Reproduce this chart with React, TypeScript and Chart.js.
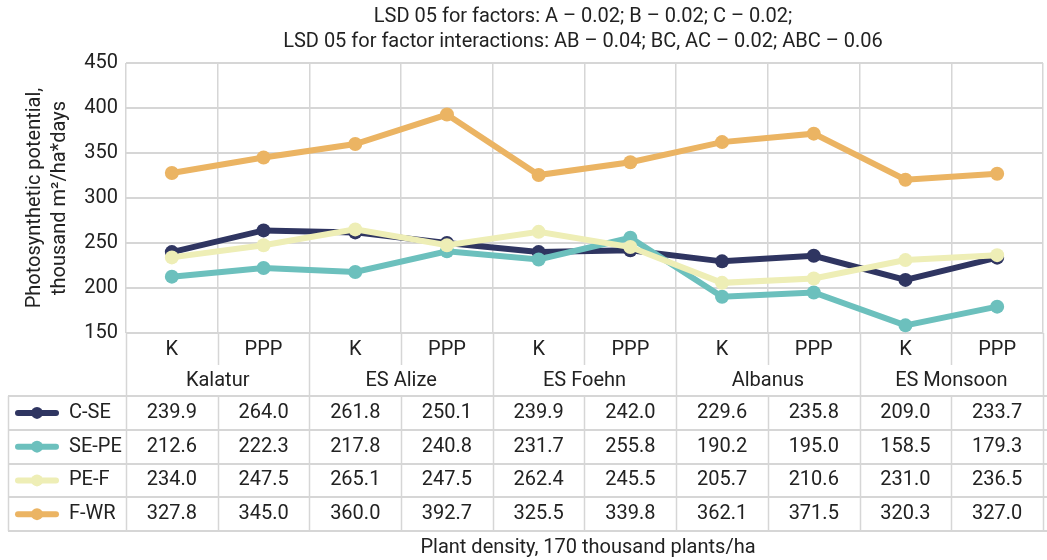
import React, { useEffect, useRef } from "react";
import { Chart, registerables } from "chart.js";
Chart.register(...registerables);

const varieties = ["Kalatur", "ES Alize", "ES Foehn", "Albanus", "ES Monsoon"];
const treatments = ["K", "PPP"];
const categories = varieties.flatMap((v) => treatments.map((t) => t));
const seriesNames = ["C-SE", "SE-PE", "PE-F", "F-WR"];
const cSE = [239.9, 264.0, 261.8, 250.1, 239.9, 242.0, 229.6, 235.8, 209.0, 233.7];
const sePE = [212.6, 222.3, 217.8, 240.8, 231.7, 255.8, 190.2, 195.0, 158.5, 179.3];
const peF = [234.0, 247.5, 265.1, 247.5, 262.4, 245.5, 205.7, 210.6, 231.0, 236.5];
const fWR = [327.8, 345.0, 360.0, 392.7, 325.5, 339.8, 362.1, 371.5, 320.3, 327.0];
const seriesValues = [cSE, sePE, peF, fWR];
const seriesColors = ["#2f3561", "#6cc0bd", "#eeeeb6", "#ebb463"];
const titleLines = [
  "LSD 05 for factors: A – 0.02; B – 0.02; C – 0.02;",
  "LSD 05 for factor interactions: AB – 0.04; BC, AC – 0.02; ABC – 0.06",
];
const yTitleLines = ["Photosynthetic potential,", "thousand m²/ha*days"];
const xTitle = "Plant density, 170 thousand plants/ha";
const yMin = 150;
const yMax = 450;
const yStep = 50;

const FONT = "Roboto, 'Noto Sans', sans-serif";
const TEXT = "#222222";
const GRID = "rgb(214,214,214)";

const tablePlugin = {
  id: "tablePlugin",
  afterDraw(chart: any) {
    const ctx = chart.ctx;
    const xs = chart.scales.x;
    const area = chart.chartArea;
    const W = chart.width;
    const colW = xs.getPixelForValue(1) - xs.getPixelForValue(0);
    const left = area.left;
    const bottom = area.bottom;
    const row1B = 365;
    const row2B = 396;
    const rowH = (531 - row2B) / 4;
    const tblBottom = row2B + rowH * 4;
    const legendLeft = 8;

    ctx.save();
    ctx.strokeStyle = GRID;
    ctx.lineWidth = 1.5;
    for (let i = 0; i <= categories.length; i++) {
      const bx = Math.round(left + i * colW) + 0.5;
      ctx.beginPath();
      if (i % 2 === 0) {
        ctx.moveTo(bx, bottom);
        ctx.lineTo(bx, tblBottom);
      } else {
        ctx.moveTo(bx, bottom);
        ctx.lineTo(bx, row1B);
        ctx.moveTo(bx, row2B);
        ctx.lineTo(bx, tblBottom);
      }
      ctx.stroke();
    }
    ctx.beginPath();
    ctx.moveTo(legendLeft + 0.5, row2B);
    ctx.lineTo(legendLeft + 0.5, tblBottom);
    ctx.stroke();
    ctx.lineWidth = 2;
    for (let r = 0; r <= 4; r++) {
      const y = Math.round(row2B + r * rowH);
      ctx.beginPath();
      ctx.moveTo(legendLeft, y);
      ctx.lineTo(W, y);
      ctx.stroke();
    }

    ctx.fillStyle = TEXT;
    ctx.font = `20px ${FONT}`;
    ctx.textAlign = "center";
    ctx.textBaseline = "middle";
    categories.forEach((c, i) => {
      ctx.fillText(c, xs.getPixelForValue(i), (bottom + row1B) / 2 + 1);
    });
    varieties.forEach((v, g) => {
      const cx = left + (g * 2 + 1) * colW;
      ctx.fillText(v, cx, (row1B + row2B) / 2);
    });
    seriesValues.forEach((vals, r) => {
      const cy = row2B + r * rowH + rowH / 2;
      vals.forEach((v, i) => {
        ctx.fillStyle = TEXT;
        ctx.textAlign = "center";
        ctx.fillText(v.toFixed(1), xs.getPixelForValue(i), cy);
      });
      ctx.strokeStyle = seriesColors[r];
      ctx.lineWidth = 6;
      ctx.lineCap = "round";
      ctx.beginPath();
      ctx.moveTo(18, cy);
      ctx.lineTo(56, cy);
      ctx.stroke();
      ctx.fillStyle = seriesColors[r];
      ctx.beginPath();
      ctx.arc(37, cy, 6, 0, Math.PI * 2);
      ctx.fill();
      ctx.fillStyle = TEXT;
      ctx.textAlign = "left";
      ctx.fillText(seriesNames[r], 69, cy);
    });

    ctx.textAlign = "center";
    ctx.fillStyle = TEXT;
    ctx.font = `20px ${FONT}`;
    ctx.fillText(xTitle, 588, 548);

    ctx.fillText(titleLines[0], 583, 17);
    ctx.fillText(titleLines[1], 583, 42);

    ctx.save();
    ctx.translate(35, (area.top + area.bottom) / 2);
    ctx.rotate(-Math.PI / 2);
    ctx.fillText(yTitleLines[0], 0, 0);
    ctx.fillText(yTitleLines[1], 0, 25);
    ctx.restore();

    ctx.restore();
  },
};

export default function App() {
  const ref = useRef<HTMLCanvasElement | null>(null);
  useEffect(() => {
    if (!ref.current) return;
    const chart = new Chart(ref.current, {
      type: "line",
      data: {
        labels: categories,
        datasets: seriesValues.map((vals, i) => ({
          label: seriesNames[i],
          data: vals,
          borderColor: seriesColors[i],
          backgroundColor: seriesColors[i],
          borderWidth: 6,
          pointRadius: 7,
          pointBorderWidth: 0,
          pointBackgroundColor: seriesColors[i],
          order: 3 - i,
          tension: 0,
        })),
      },
      options: {
        responsive: false,
        animation: false,
        layout: { padding: { top: 63, bottom: 227, left: 0, right: 0 } },
        plugins: {
          legend: { display: false },
          title: { display: false },
          tooltip: { enabled: false },
        },
        scales: {
          x: {
            offset: true,
            grid: { offset: true, color: GRID, lineWidth: 1.5, drawTicks: false },
            border: { display: false },
            ticks: { display: false },
            afterFit: (s: any) => {
              s.height = 0;
            },
          },
          y: {
            min: yMin,
            max: yMax,
            grid: { color: GRID, lineWidth: 2, drawTicks: false },
            border: { display: false },
            ticks: {
              stepSize: yStep,
              padding: 8,
              color: TEXT,
              font: { family: FONT, size: 20 },
            },
            afterFit: (s: any) => {
              s.width = 126;
            },
          },
        },
      },
      plugins: [tablePlugin],
    });
    return () => chart.destroy();
  }, []);
  return (
    <div
      style={{
        position: "fixed",
        left: 0,
        top: 0,
        width: 1047,
        height: 560,
        overflow: "hidden",
        background: "#fff",
      }}
    >
      <canvas ref={ref} width={1050} height={560} style={{ display: "block" }} />
    </div>
  );
}
